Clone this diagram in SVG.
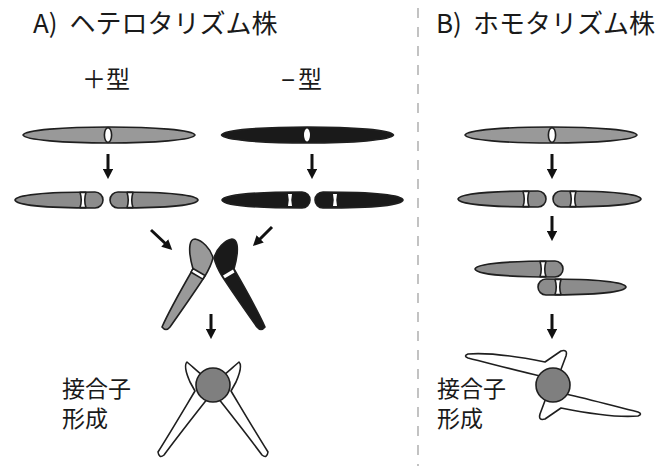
<svg xmlns="http://www.w3.org/2000/svg" width="672" height="466" viewBox="0 0 672 466">
  <style>
    .t { font-family: "Noto Sans CJK JP", "Noto Sans", sans-serif; fill: #1a1a1a; }
    .title { font-size: 26px; }
    .lab { font-size: 24px; }
    .note { font-size: 23px; }
    .ol { stroke: #1f1f1f; stroke-width: 1.6; stroke-linejoin: round; }
    .g { fill: #999999; }
    .gd { fill: #8c8c8c; }
    .k { fill: #1a1a1a; }
    .w { fill: #ffffff; }
    .arr { stroke: #111; stroke-width: 3; fill: none; marker-end: url(#head); }
  </style>
  <defs>
    <marker id="head" viewBox="0 0 10 10" refX="3" refY="5" markerWidth="3.4" markerHeight="3.4" orient="auto" markerUnits="strokeWidth">
      <path d="M0,0 L10,5 L0,10 Z" fill="#111"/>
    </marker>
    <!-- half chromosome: pointed end at left, rounded end at right -->
    <path id="halfShape" d="M-80,0 C-79,-5 -50,-8 0,-8 A8,8 0 0 1 0,8 C-50,8 -79,5 -80,0 Z"/>
    <path id="pinch" d="M-15,-7.6 Q-12.5,0 -15,7.6 L-9,7.6 Q-11.5,0 -9,-7.6 Z"/>
    <g id="halfG">
      <use href="#halfShape" class="gd ol"/>
      <use href="#pinch" class="w ol" stroke-width="1.2"/>
    </g>
    <g id="halfK">
      <use href="#halfShape" class="k ol"/>
      <path d="M-14,-6 Q-12.5,0 -14,6 L-10,6 Q-11.5,0 -10,-6 Z" fill="#fff"/>
    </g>
    <!-- long spindle chromosome, centred at origin -->
    <path id="spindle" d="M-86,0 C-84,-5 -45,-8 0,-8 C45,-8 84,-5 86,0 C84,5 45,8 0,8 C-45,8 -84,5 -86,0 Z"/>
    <!-- bent chromosome used in crossing pair -->
    <path id="bent" d="M195,239 C202,240 211,249 213,258 C211,266 208,271 205,276 C194,293 182,310 170,327 Q166,332 162,327 C170,309 181,290 193,269 C191,262 189,251 190,245 Q191,239 195,239 Z"/>
    <!-- conjugation chromosome, left side of pair A -->
    <path id="zygA" d="M187,362 Q183,366 190,382 L195,391 C183,411 170,433 158,452 Q159,459 164,455 C178,436 193,417 208,398 L206,378 C199,373 192,366 187,362 Z"/>
    <!-- conjugation chromosome, upper-left of pair B -->
    <path id="zygB" d="M468,354 C490,352 520,357 545,362 L561,351 Q568,349 566,356 L560,372 L540,376 C518,371 492,364 468,358 Q463,356 468,354 Z"/>
  </defs>

  <!-- divider -->
  <line x1="418" y1="8" x2="418" y2="466" stroke="#b4b4b4" stroke-width="1.6" stroke-dasharray="10 9"/>

  <!-- headings -->
  <text class="t title" x="33" y="33">A)<tspan dx="12">ヘテロタリズム株</tspan></text>
  <text class="t title" x="436" y="33">B)<tspan dx="11">ホモタリズム株</tspan></text>
  <text class="t lab" x="82" y="88">＋型</text>
  <text class="t lab" x="281" y="88"><tspan font-family="Liberation Sans, sans-serif">−</tspan><tspan dx="3">型</tspan></text>

  <!-- A: plus mating type -->
  <g id="plus-cell">
    <use href="#spindle" class="g ol" transform="translate(109,135)"/>
    <ellipse cx="108" cy="135" rx="3.6" ry="7.4" class="w ol" stroke-width="1.3"/>
  </g>
  <g id="plus-halves">
    <use href="#halfG" transform="translate(95,200)"/>
    <use href="#halfG" transform="translate(118,200) scale(-1,1)"/>
  </g>

  <!-- A: minus mating type -->
  <g id="minus-cell">
    <use href="#spindle" class="k ol" transform="translate(307.5,135)"/>
    <ellipse cx="307" cy="135" rx="3" ry="6.5" fill="#fff"/>
  </g>
  <g id="minus-halves">
    <use href="#halfK" transform="translate(302,200)"/>
    <use href="#halfK" transform="translate(323,200) scale(-1,1)"/>
  </g>

  <!-- A: pairing -->
  <g id="pair-A">
    <use href="#bent" class="g ol"/>
    <path d="M193,268.5 L205,275.5 L202.8,279.1 L191.1,272.2 Z" class="w ol" stroke-width="1.1"/>
    <g transform="translate(427,0) scale(-1,1)">
      <use href="#bent" class="k ol"/>
      <path d="M194,269.5 L204,275.5 L202.2,278.3 L192.5,272.4 Z" fill="#fff"/>
    </g>
  </g>

  <!-- A: zygote -->
  <g id="zygote-A">
    <use href="#zygA" class="w ol"/>
    <use href="#zygA" class="w ol" transform="translate(426,0) scale(-1,1)"/>
    <circle cx="213" cy="385" r="17" fill="#7f7f7f" class="ol"/>
  </g>
  <text class="t note" x="62" y="397">接合子<tspan x="62" y="427">形成</tspan></text>

  <!-- B: homothallic -->
  <g id="homo-cell">
    <use href="#spindle" class="g ol" transform="translate(551,135)"/>
    <ellipse cx="552" cy="135" rx="3.6" ry="7.4" class="w ol" stroke-width="1.3"/>
  </g>
  <g id="homo-halves">
    <use href="#halfG" transform="translate(538,199)"/>
    <use href="#halfG" transform="translate(561,199) scale(-1,1)"/>
  </g>
  <g id="homo-pair">
    <use href="#halfG" transform="translate(555,269)"/>
    <use href="#halfG" transform="translate(546,287) scale(-1,1)"/>
  </g>
  <g id="zygote-B">
    <use href="#zygB" class="w ol"/>
    <use href="#zygB" class="w ol" transform="rotate(180 553 385)"/>
    <circle cx="553" cy="385" r="17" fill="#7f7f7f" class="ol"/>
  </g>
  <text class="t note" x="437" y="397">接合子<tspan x="437" y="427">形成</tspan></text>

  <!-- connectors -->
  <g id="arrows">
    <line class="arr" x1="108" y1="154" x2="108" y2="172"/>
    <line class="arr" x1="312" y1="154" x2="312" y2="172"/>
    <line class="arr" x1="151" y1="230" x2="167" y2="245"/>
    <line class="arr" x1="272" y1="227" x2="258" y2="241"/>
    <line class="arr" x1="211" y1="314" x2="211" y2="332"/>
    <line class="arr" x1="552" y1="154" x2="552" y2="172"/>
    <line class="arr" x1="552" y1="216" x2="552" y2="234"/>
    <line class="arr" x1="552" y1="314" x2="552" y2="332"/>
  </g>
</svg>
